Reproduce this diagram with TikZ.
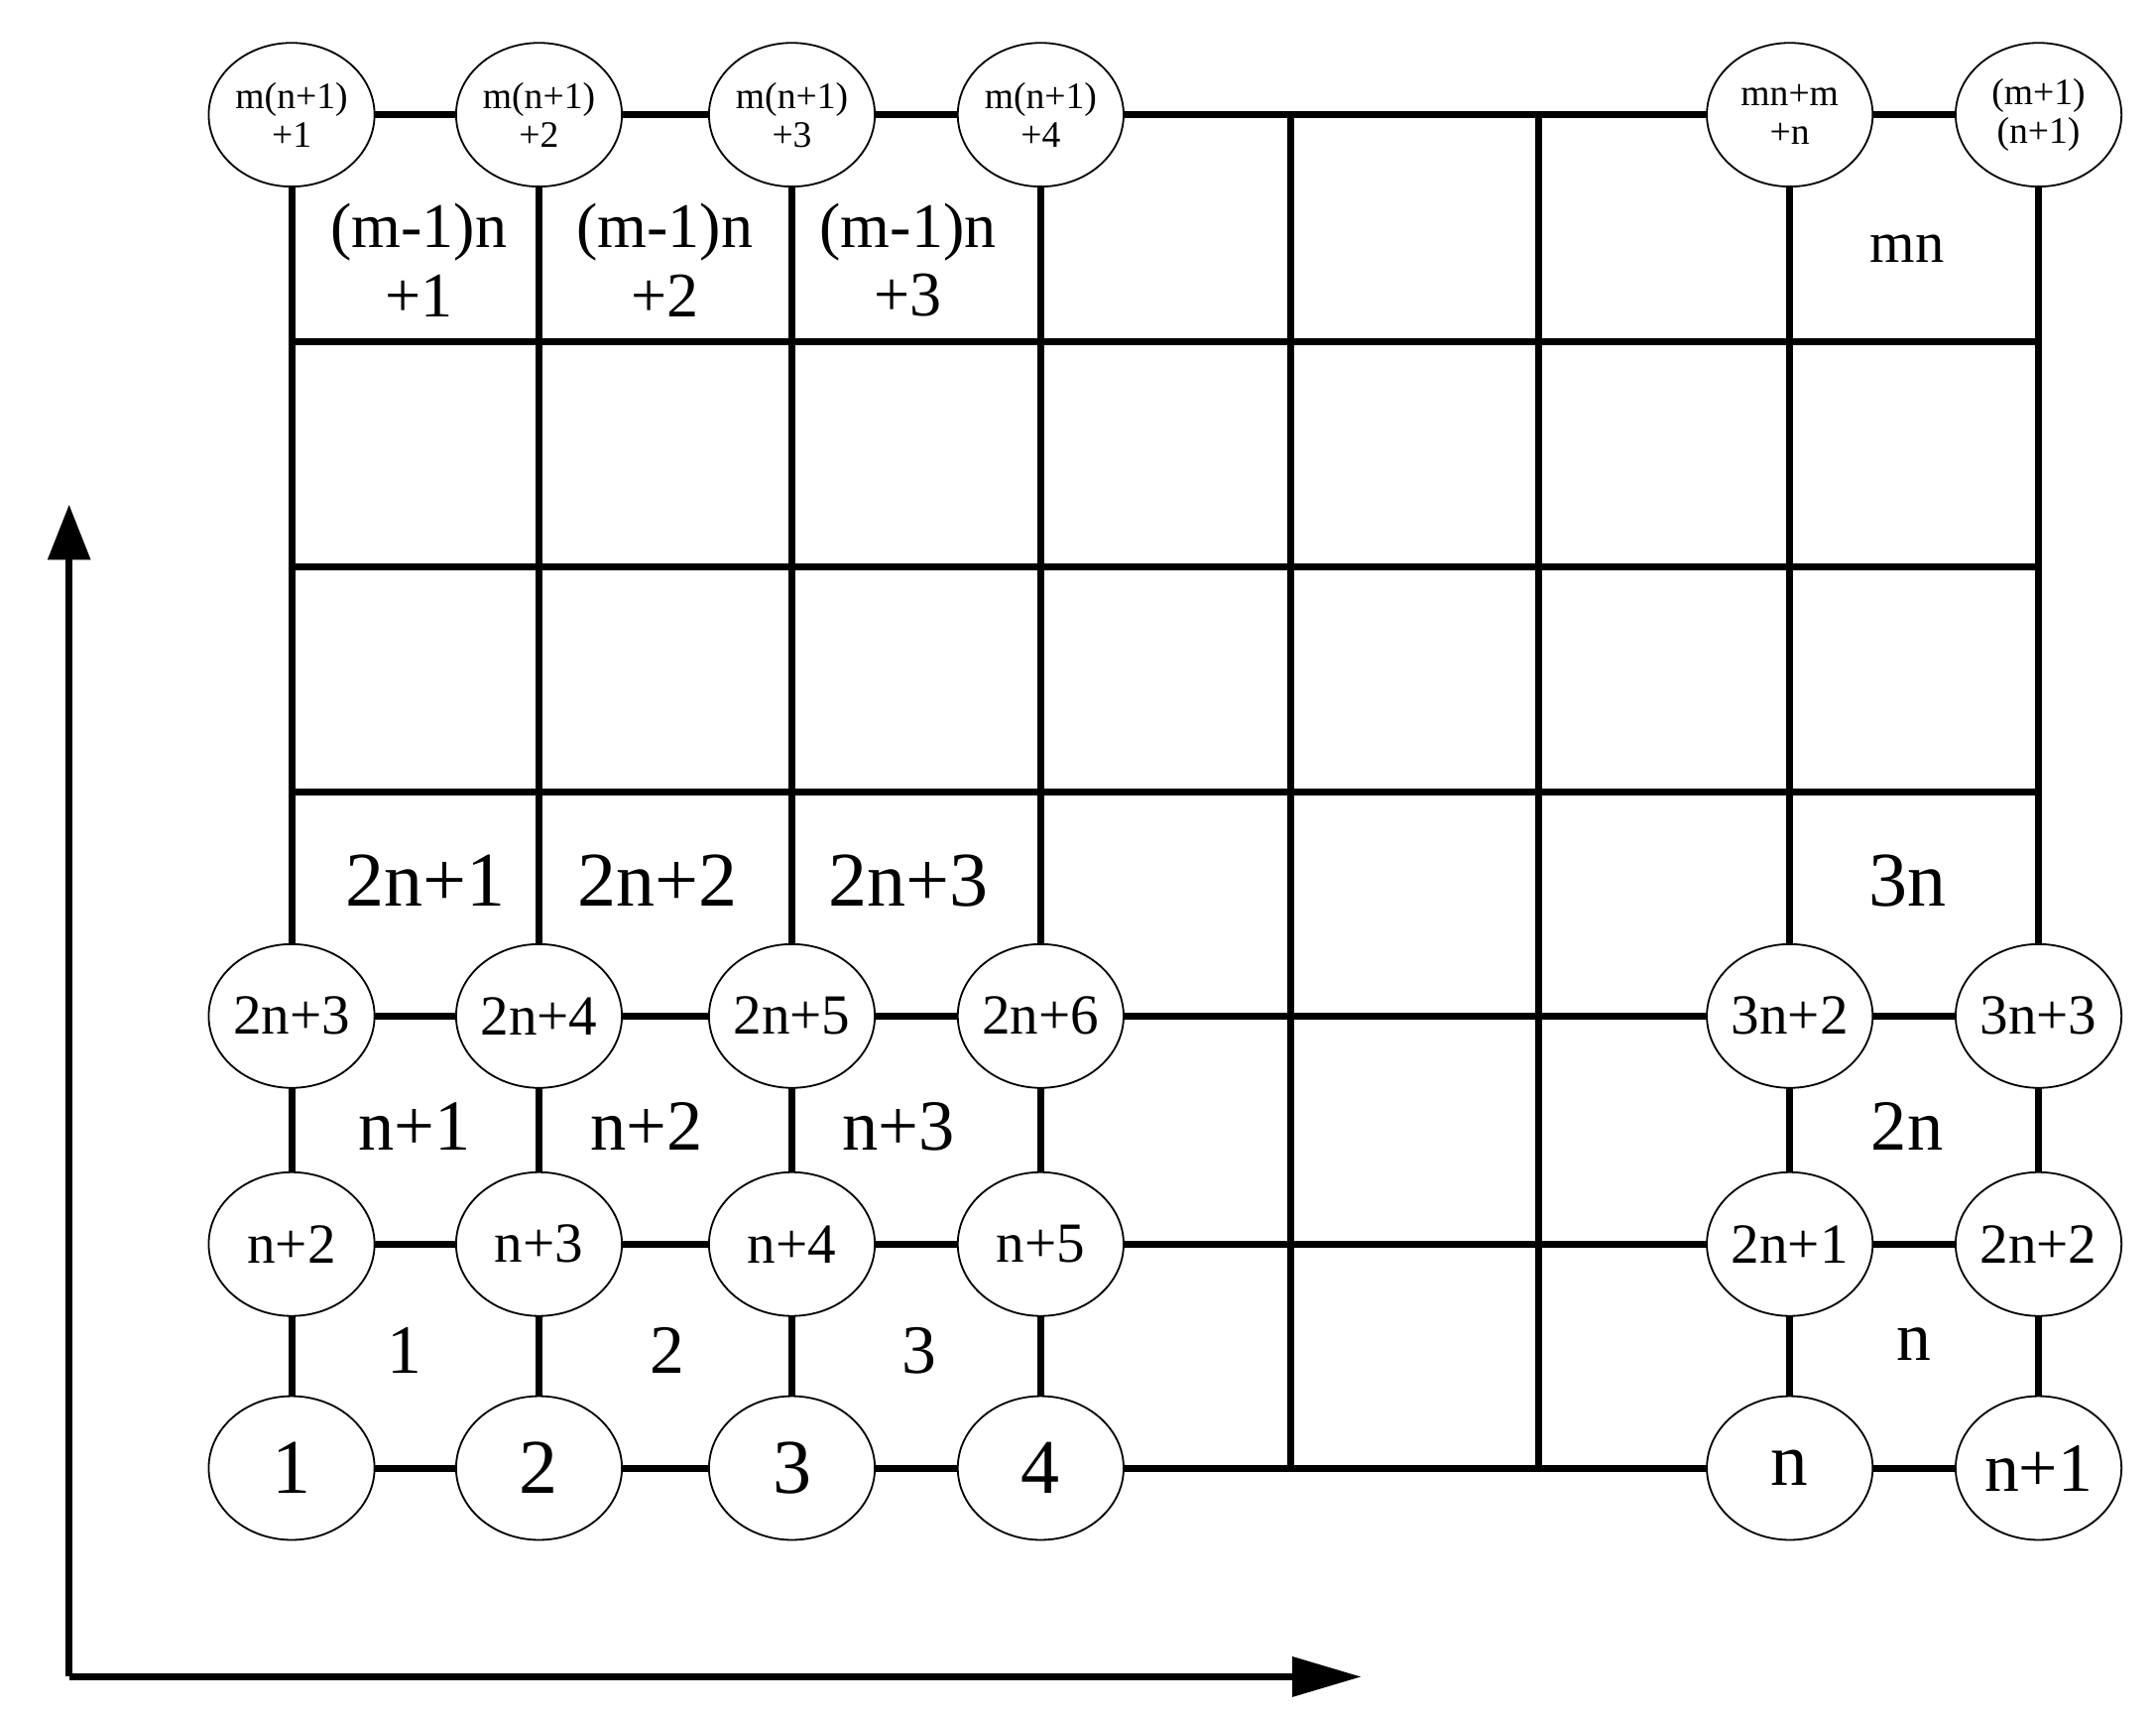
\documentclass[tikz,border=0pt]{standalone}
\usepackage{fontspec}
\setmainfont{Liberation Serif}
\usetikzlibrary{shapes.geometric,arrows.meta}
\begin{document}
\begin{tikzpicture}[x=1pt,y=-1pt,
  nd/.style={ellipse,draw,line width=1.3pt,fill=white,minimum width=120pt,minimum height=104pt,inner sep=0pt,align=center},
  gl/.style={line width=5pt},
  big/.style={font=\fontsize{56}{56}\selectfont},
  mid/.style={font=\fontsize{41}{41}\selectfont},
  sml/.style={font=\fontsize{27}{28}\selectfont},
  lab/.style={align=center,inner sep=0pt}]
\useasboundingbox (0,0) rectangle (1560,1240);
\foreach \x/\c in {211/1,390/2,573/3,753/4,934/5,1113/6,1295/7,1475/8}{
  \foreach \y/\r in {1062/1,900/2,735/3,573/4,410/5,247/6,83/7}{
    \coordinate (g\c\r) at (\x,\y);}}
\foreach \r in {1,2,3,4,5,6,7}{\draw[gl] (g1\r) -- (g8\r);}
\foreach \c in {1,...,8}{\draw[gl] (g\c1) -- (g\c7);}
\coordinate (o) at (50,1213);
\coordinate (ay) at (50,365);
\coordinate (ax) at (985,1213);
\draw[line width=5pt,-{Triangle[length=40pt,width=30pt]}] (o) -- (ay);
\draw[line width=5pt,-{Triangle[length=50pt,width=28pt]}] (o) -- (ax);
\node[nd,font=\fontsize{56}{56}\selectfont] (a1) at (g11) {1};
\node[nd,font=\fontsize{56}{56}\selectfont] (a2) at (g21) {2};
\node[nd,font=\fontsize{56}{56}\selectfont] (a3) at (g31) {3};
\node[nd,font=\fontsize{56}{56}\selectfont] (a4) at (g41) {4};
\node[nd,font=\fontsize{54}{54}\selectfont] (a7) at (g71) {n};
\node[nd,font=\fontsize{50}{50}\selectfont] (a8) at (g81) {n+1};
\node[nd,mid] (b1) at (g12) {n+2};
\node[nd,mid] (b2) at (g22) {n+3};
\node[nd,mid] (b3) at (g32) {n+4};
\node[nd,mid] (b4) at (g42) {n+5};
\node[nd,mid] (b7) at (g72) {2n+1};
\node[nd,mid] (b8) at (g82) {2n+2};
\node[nd,mid] (c1) at (g13) {2n+3};
\node[nd,mid] (c2) at (g23) {2n+4};
\node[nd,mid] (c3) at (g33) {2n+5};
\node[nd,mid] (c4) at (g43) {2n+6};
\node[nd,mid] (c7) at (g73) {3n+2};
\node[nd,mid] (c8) at (g83) {3n+3};
\node[nd,sml] (t1) at (g17) {m(n+1)\\+1};
\node[nd,sml] (t2) at (g27) {m(n+1)\\+2};
\node[nd,sml] (t3) at (g37) {m(n+1)\\+3};
\node[nd,sml] (t4) at (g47) {m(n+1)\\+4};
\node[nd,sml] (t7) at (g77) {mn+m\\+n};
\node[nd,sml] (t8) at (g87) {(m+1)\\(n+1)};
\node[lab,font=\fontsize{50}{50}\selectfont] (l1) at (293,977) {1};
\node[lab,font=\fontsize{50}{50}\selectfont] (l2) at (483,977) {2};
\node[lab,font=\fontsize{50}{50}\selectfont] (l3) at (665,977) {3};
\node[lab,font=\fontsize{50}{50}\selectfont] (ln) at (1385,972) {n};
\node[lab,font=\fontsize{52}{52}\selectfont] (m1) at (300,815) {n+1};
\node[lab,font=\fontsize{52}{52}\selectfont] (m2) at (468,815) {n+2};
\node[lab,font=\fontsize{52}{52}\selectfont] (m3) at (650,815) {n+3};
\node[lab,font=\fontsize{52}{52}\selectfont] (m8) at (1380,815) {2n};
\node[lab,big] (k1) at (308,637) {2n+1};
\node[lab,big] (k2) at (476,637) {2n+2};
\node[lab,big] (k3) at (657,637) {2n+3};
\node[lab,big] (k8) at (1380,637) {3n};
\node[lab,font=\fontsize{46}{50}\selectfont] (u1) at (303,188) {(m-1)n\\+1};
\node[lab,font=\fontsize{46}{50}\selectfont] (u2) at (481,188) {(m-1)n\\+2};
\node[lab,font=\fontsize{46}{50}\selectfont] (u3) at (657,188) {(m-1)n\\+3};
\node[lab,font=\fontsize{42}{42}\selectfont] (u8) at (1380,180) {mn};
\end{tikzpicture}
\end{document}
